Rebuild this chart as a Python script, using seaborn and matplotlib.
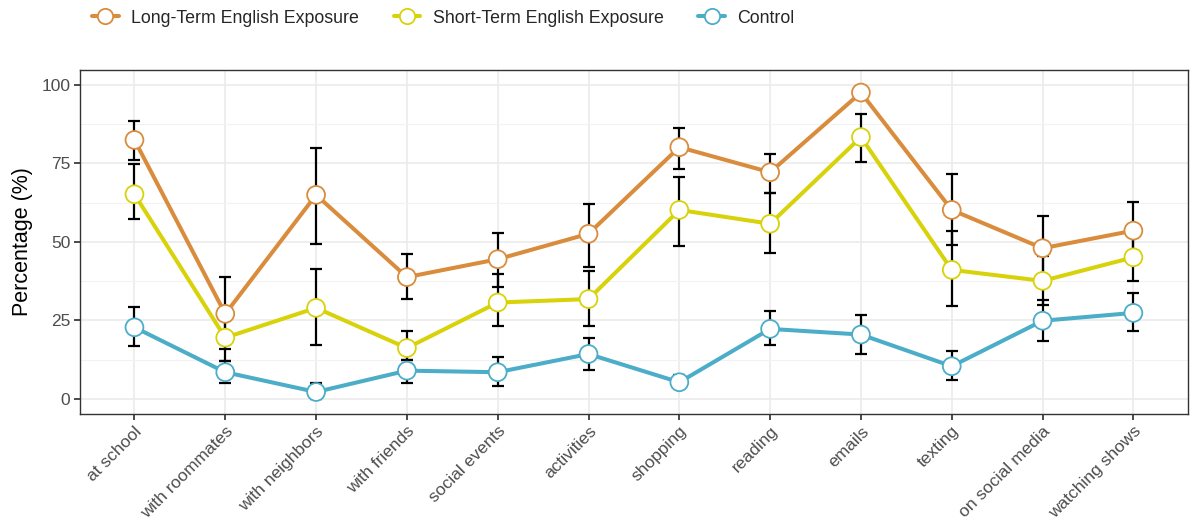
import numpy as np
import pandas as pd
import seaborn as sns
import matplotlib.pyplot as plt
from matplotlib.lines import Line2D

sns.set_theme(style="whitegrid")
plt.rcParams['font.family'] = ['Liberation Sans', 'DejaVu Sans']

# ---------- Data ----------
contexts = ["at school", "with roommates", "with neighbors", "with friends",
            "social events", "activities", "shopping", "reading", "emails",
            "texting", "on social media", "watching shows"]

long_term = [82.5, 27.1, 65.0, 38.8, 44.5, 52.6, 80.2, 72.2, 97.6, 60.2, 48.0, 53.6]
long_lo   = [76.0, 15.9, 49.4, 31.8, 35.5, 42.0, 73.3, 65.5, 97.6, 48.9, 37.6, 45.0]
long_hi   = [88.6, 38.8, 79.9, 46.2, 53.0, 62.1, 86.4, 78.1, 97.6, 71.6, 58.4, 62.6]

short_term = [65.2, 19.5, 29.0, 16.2, 30.7, 31.8, 60.2, 55.8, 83.4, 41.1, 37.6, 45.1]
short_lo   = [57.3, 12.2, 17.3, 12.5, 23.1, 23.1, 48.6, 46.6, 75.4, 29.7, 30.0, 37.6]
short_hi   = [74.8, 27.0, 41.4, 21.5, 39.9, 40.9, 70.8, 65.5, 90.8, 53.6, 45.4, 53.0]

control    = [22.8, 8.5, 2.2, 9.0, 8.5, 14.3, 5.3, 22.3, 20.5, 10.4, 24.9, 27.4]
control_lo = [16.8, 5.1, 0.0, 5.1, 4.2, 9.3, 3.5, 17.3, 14.4, 6.1, 18.3, 21.5]
control_hi = [29.2, 12.2, 5.1, 12.5, 13.2, 19.3, 7.7, 27.9, 26.6, 15.4, 31.5, 33.7]

groups = ["Long-Term English Exposure", "Short-Term English Exposure", "Control"]
palette = {"Long-Term English Exposure": "#D98C3C",
           "Short-Term English Exposure": "#D8D20A",
           "Control": "#4BADC8"}

df = pd.DataFrame({
    "Context": contexts * 3,
    "Group": np.repeat(groups, len(contexts)),
    "Pct": long_term + short_term + control,
    "lo": long_lo + short_lo + control_lo,
    "hi": long_hi + short_hi + control_hi,
})
df["Context"] = pd.Categorical(df["Context"], categories=contexts, ordered=True)
df["x"] = df["Context"].cat.codes

# ---------- Plot ----------
fig = plt.figure(figsize=(11.9, 5.26), dpi=100)
ax = fig.add_axes([0.0672, 0.213, 0.931, 0.654])

sns.lineplot(data=df, x="x", y="Pct", hue="Group", palette=palette,
             linewidth=2.9, ax=ax, legend=False, zorder=2)

for g in groups:
    d = df[df["Group"] == g]
    ax.errorbar(d["x"], d["Pct"], yerr=[d["Pct"] - d["lo"], d["hi"] - d["Pct"]],
                fmt="none", ecolor="black", elinewidth=1.6, capsize=4,
                capthick=1.6, zorder=3)

sns.scatterplot(data=df, x="x", y="Pct", hue="Group", palette=palette,
                s=165, linewidth=1.3, ax=ax, legend=False, zorder=4)
# white fill, coloured edge
pts = ax.collections[-1]
pts.set_edgecolors(pts.get_facecolors())
pts.set_facecolors("white")

ax.set_xlim(-0.6, len(contexts) - 0.4)
ax.set_ylim(-4.8, 104.8)
ax.set_xticks(range(len(contexts)))
ax.set_xticklabels(contexts, rotation=45, ha="right", rotation_mode="anchor",
                   fontsize=12.5, color="#4D4D4D")
ax.set_yticks([0, 25, 50, 75, 100])
ax.set_yticks([12.5, 37.5, 62.5, 87.5], minor=True)
ax.tick_params(axis="y", labelsize=12.5, labelcolor="#4D4D4D", length=4,
               color="#333333", left=True, pad=3)
ax.tick_params(axis="x", length=4, color="#333333", bottom=True, pad=3)
ax.set_xlabel("")
ax.set_ylabel("Percentage (%)", fontsize=15.5, color="black", labelpad=6)

ax.grid(which="major", color="#EBEBEB", linewidth=1.2)
ax.grid(which="minor", color="#F2F2F2", linewidth=0.8)
ax.tick_params(which="minor", length=0)
for sp in ax.spines.values():
    sp.set_color("#333333")
    sp.set_linewidth(1.0)

handles = [Line2D([0], [0], color=palette[g], linewidth=2.9, marker="o",
                  markersize=11, markerfacecolor="white",
                  markeredgecolor=palette[g], markeredgewidth=1.3, label=g)
           for g in groups]
fig.legend(handles=handles, loc="upper left", bbox_to_anchor=(0.064, 1.012),
           ncol=3, frameon=False, fontsize=12.8, handlelength=1.5,
           columnspacing=1.95, handletextpad=0.7)

fig.savefig("out.png", dpi=100)
